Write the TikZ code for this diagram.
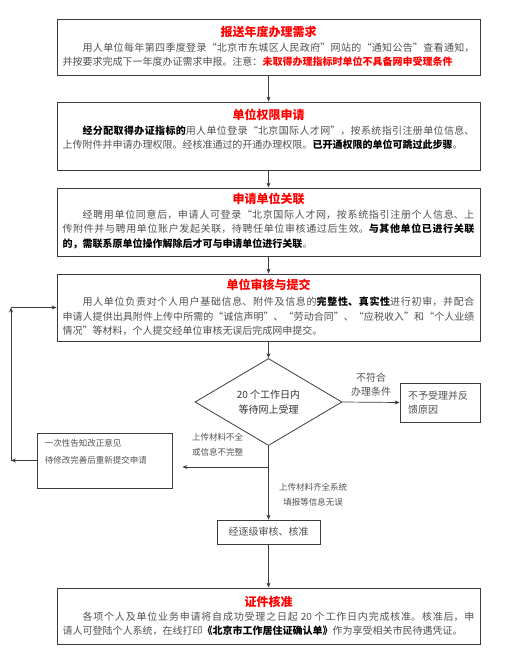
\documentclass[tikz,border=0pt]{standalone}
\usepackage{fontspec}
\setmainfont{Noto Sans CJK SC}
\usepackage{tikz}
\usetikzlibrary{arrows.meta,positioning,calc,shapes.geometric}
\usepackage{xcolor}
\definecolor{txtgray}{RGB}{80,80,80}
\definecolor{linegray}{RGB}{60,60,60}
\XeTeXlinebreaklocale "zh"
\XeTeXlinebreakskip=0pt plus 1.5pt minus 0.3pt
\newcommand{\keytxt}[1]{{\bfseries\color{black}#1}}
\newcommand{\warntxt}[1]{{\bfseries\color{red}#1}}

\begin{document}
\begin{tikzpicture}[
  x=1pt, y=-1pt,
  font=\fontsize{10pt}{14.5pt}\selectfont,
  panel/.style={draw=linegray, line width=0.8pt, minimum width=423pt, inner sep=0pt},
  ttl/.style={anchor=north, inner sep=0pt, text=red,
              font=\fontsize{12pt}{14pt}\selectfont\bfseries},
  para/.style={anchor=north, inner sep=0pt, text width=412pt, align=justify, text=txtgray},
  small/.style={inner sep=0pt, text=txtgray, font=\fontsize{8.5pt}{15pt}\selectfont},
  plain/.style={draw=linegray, line width=0.8pt, text=txtgray},
  arr/.style={-{Stealth[length=5pt,width=4pt]}, line width=0.7pt, linegray},
]
\useasboundingbox (0,0) rectangle (504,661);

%% --- Top boxes ---
\node[panel, minimum height=56pt] (b1) at (268.5,47) {};
\node[ttl] (t1) at ([yshift=-7pt]b1.north) {报送年度办理需求};
\node[para] (p1) at ([yshift=-24pt]b1.north) {\hspace*{2em}用人单位每年第四季度登录“北京市东城区人民政府”网站的“通知公告”查看通知，\linebreak 并按要求完成下一年度办证需求申报。注意：\warntxt{未取得办理指标时单位不具备网申受理条件}};

\node[panel, minimum height=68pt] (b2) at (268.5,136) {};
\node[ttl] (t2) at ([yshift=-7pt]b2.north) {单位权限申请};
\node[para] (p2) at ([yshift=-24pt]b2.north) {\hspace*{2em}\keytxt{经分配取得办证指标的}用人单位登录“北京国际人才网”，按系统指引注册单位信息、\linebreak 上传附件并申请办理权限。经核准通过的开通办理权限。\keytxt{已开通权限的单位可跳过此步骤}。};

\node[panel, minimum height=68pt] (b3) at (268.5,222) {};
\node[ttl] (t3) at ([yshift=-5pt]b3.north) {申请单位关联};
\node[para] (p3) at ([yshift=-22pt]b3.north) {\hspace*{2em}经聘用单位同意后，申请人可登录“北京国际人才网，按系统指引注册个人信息、上\linebreak 传附件并与聘用单位账户发起关联，待聘任单位审核通过后生效。\keytxt{与其他单位已进行关联\linebreak 的，需联系原单位操作解除后才可与申请单位进行关联}。};

\node[panel, minimum height=67pt] (b4) at (268.5,307.5) {};
\node[ttl] (t4) at ([yshift=-5pt]b4.north) {单位审核与提交};
\node[para] (p4) at ([yshift=-23pt]b4.north) {\hspace*{2em}用人单位负责对个人用户基础信息、附件及信息的\keytxt{完整性、真实性}进行初审，并配合\linebreak 申请人提供出具附件上传中所需的“诚信声明”、“劳动合同”、“应税收入”和“个人业绩\linebreak 情况”等材料，个人提交经单位审核无误后完成网申提交。};

%% --- Decision ---
\node[diamond, draw=linegray, line width=0.8pt, minimum width=147pt, minimum height=70pt,
      inner sep=0pt, align=center, text=black!80] (dia) at (268.5,402) {20 个工作日内\\等待网上受理};
\node[plain, text width=64pt, inner xsep=8pt, minimum height=39pt, align=left] (rej) at (440,402.5) {不予受理并反\\馈原因};
\node[plain, minimum width=135pt, minimum height=55pt, inner sep=0pt] (back) at (104.5,460.5) {};
\node[small, anchor=north west, align=left, font=\fontsize{8.5pt}{17pt}\selectfont] (backt) at ([xshift=8pt,yshift=-6pt]back.north west) {一次性告知改正意见\\待修改完善后重新提交申请};
\node[plain, minimum width=103pt, minimum height=24pt] (chk) at (268.5,532) {经逐级审核、核准};

%% --- Last box ---
\node[panel, minimum height=56pt] (b5) at (268.5,616) {};
\node[ttl] (t5) at ([yshift=-8pt]b5.north) {证件核准};
\node[para] (p5) at ([yshift=-24pt]b5.north) {\hspace*{2em}各项个人及单位业务申请将自成功受理之日起 20 个工作日内完成核准。核准后，申\linebreak 请人可登陆个人系统，在线打印\keytxt{《北京市工作居住证确认单》}作为享受相关市民待遇凭证。};

%% --- Connectors ---
\draw[arr] (b1) -- (b2);
\draw[arr] (b2) -- (b3);
\draw[arr] (b3) -- (b4);
\draw[arr] (b4) -- (dia);
\draw[arr] (dia.east) -- node[above=2pt, align=center, text=txtgray]{不符合\\办理条件} (rej.west);
\coordinate (jn) at (268.5,467);
\draw[arr] (dia.south) -- (chk.north);
\draw[arr, shorten >=10pt] (jn) -- (jn -| back.east);
\node[small, anchor=west, align=left] (lackl) at (192,444.5) {上传材料不全\\或信息不完整};
\node[small, align=center] (fulll) at (313,495) {上传材料齐全系统\\填报等信息无误};
\draw[arr] (chk) -- (b5);

% feedback loop back to unit review
\coordinate (fbl) at (11,460.5);
\coordinate (fbt) at (11,307.5);
\draw[arr] (back.west) -- (fbl);
\draw[arr] (fbl) -- (fbt);
\draw[arr] (fbt) -- (b4.west);

\end{tikzpicture}
\end{document}
